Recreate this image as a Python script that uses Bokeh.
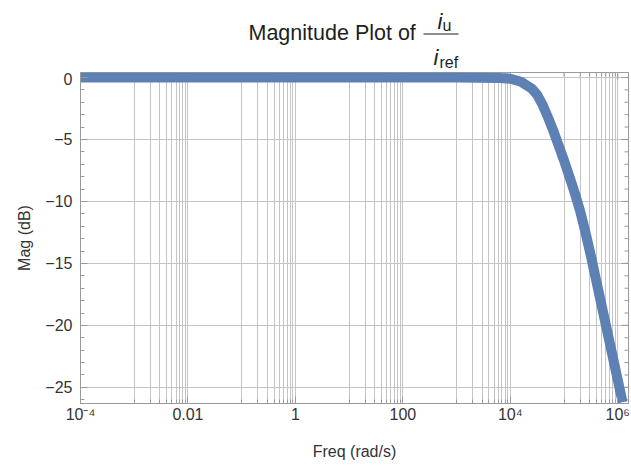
import math

from bokeh.plotting import figure
from bokeh.layouts import column
from bokeh.models import FixedTicker, CustomJSTickFormatter
from bokeh.core.properties import value
from bokeh.embed import file_html
from bokeh.resources import INLINE

# Magnitude response of i_u / i_ref (frequency in rad/s, magnitude in dB)
freq = [1e-4, 1e2, 1e3, 6.3e3, 1e4, 1.58e4, 2.51e4, 3.16e4, 3.98e4, 5.01e4,
        6.31e4, 7.94e4, 1e5, 1.26e5, 1.58e5, 2.0e5, 2.51e5, 3.16e5, 3.98e5,
        5.01e5, 6.31e5, 7.94e5, 1e6, 1.23e6]
mag_db = [0.0, 0.0, 0.0, -0.05, -0.1, -0.35, -0.9, -1.4, -2.2, -3.2,
          -4.3, -5.5, -6.7, -8.0, -9.3, -10.8, -12.5, -14.4, -16.4,
          -18.4, -20.4, -22.4, -24.4, -26.2]

# x ticks: labelled every two decades, grid/minor ticks in the odd decades
x_major = [1e-4, 1e-2, 1.0, 1e2, 1e4, 1e6]
x_major_labels = ["10\u207b\u2074", "0.01", "1", "100", "10\u2074", "10\u2076"]
odd_decades = [1e-3, 1e-1, 1e1, 1e3, 1e5]
minor_mult = [1, 2, 3, 4, 5, 6, 7, 8, 9]

y_major = [-25, -20, -15, -10, -5, 0]
y_minor = list(range(-26, 1))

X_LO, X_HI = 1e-4, 10 ** 6.2
Y_LO, Y_HI = -26.3, 0.4

FONT = "Liberation Sans"
GRID = "#c4c4c4"
FRAME = "#9a9a9a"
TEXT = "#333333"
INK = "#1e1e1e"
BLUE = "#5e81b5"

x_minor = [m * d for d in odd_decades for m in minor_mult]

# plot frame position on the page (left, right)
FRAME_L, FRAME_R = 80, 628

# ---- heading: "Magnitude Plot of  i_u / i_ref" -------------------------
# the column lines this strip's frame up with the plot's frame, so its
# x range is expressed in page pixels over that same span
head = figure(width=631, height=72, x_range=(FRAME_L, FRAME_R),
              y_range=(72, 0), output_backend="svg", toolbar_location=None,
              x_axis_location=None, y_axis_location=None,
              min_border_left=FRAME_L, min_border_right=631 - FRAME_R,
              min_border_top=0, min_border_bottom=0)
head.grid.visible = False
head.outline_line_color = None
head.background_fill_color = "white"
head.border_fill_color = "white"


def head_text(x, y, text, size, style="normal"):
    # y is the wanted baseline; shift by the offset the svg text applies
    px = float(size.rstrip("px"))
    head.text(x=[x], y=[y - 0.37 * px], text=[text], text_font=value(FONT),
              text_font_size=size, text_font_style=style, text_color=INK,
              text_baseline="alphabetic", text_align="left")


head_text(248, 40, "Magnitude Plot of", "21.5px")
head_text(437, 29, "i", "22px", "italic")
head_text(442, 31, "u", "16px")
head.segment(x0=[423], y0=[33.5], x1=[458], y1=[33.5], line_color=INK,
             line_width=1)
head_text(433, 65, "i", "22px", "italic")
head_text(439, 68, "ref", "16px")

# ---- Bode magnitude plot -----------------------------------------------
p = figure(width=631, height=394, x_axis_type="log",
           x_range=(X_LO, X_HI), y_range=(Y_LO, Y_HI),
           output_backend="svg", toolbar_location=None,
           min_border_left=FRAME_L, min_border_right=631 - FRAME_R,
           min_border_top=0, min_border_bottom=63)
p.background_fill_color = "white"
p.border_fill_color = "white"
p.outline_line_color = FRAME

xt = FixedTicker(ticks=x_major, minor_ticks=x_minor)
yt = FixedTicker(ticks=y_major, minor_ticks=y_minor)

label_map = {str(round(math.log10(v))): s
             for v, s in zip(x_major, x_major_labels)}
xfmt = CustomJSTickFormatter(args=dict(labels=label_map), code="""
    const k = String(Math.round(Math.log10(tick)));
    return labels[k] !== undefined ? labels[k] : "";
""")
yfmt = CustomJSTickFormatter(code="""
    return tick < 0 ? "\u2212" + String(-tick) : String(tick);
""")

for ax in (p.xaxis[0], p.yaxis[0]):
    ax.axis_line_color = FRAME
    ax.major_tick_line_color = FRAME
    ax.minor_tick_line_color = FRAME
    ax.major_tick_in = 7
    ax.major_tick_out = 0
    ax.minor_tick_in = 4
    ax.minor_tick_out = 0
    ax.major_label_text_font = FONT
    ax.major_label_text_font_size = "16px"
    ax.major_label_text_color = TEXT
    ax.axis_label_text_font = FONT
    ax.axis_label_text_font_size = "16px"
    ax.axis_label_text_font_style = "normal"
    ax.axis_label_text_color = TEXT

xa = p.xaxis[0]
xa.ticker = xt
xa.formatter = xfmt
xa.axis_label = "Freq (rad/s)"
xa.major_label_standoff = 2
xa.axis_label_standoff = 17

ya = p.yaxis[0]
ya.ticker = yt
ya.formatter = yfmt
ya.axis_label = "Mag (dB)"
ya.major_label_standoff = 8
ya.axis_label_standoff = 9

p.xgrid.ticker = xt
p.xgrid.grid_line_color = GRID
p.xgrid.minor_grid_line_color = GRID
p.ygrid.ticker = yt
p.ygrid.grid_line_color = GRID

# inward ticks along the top and right edges of the frame
p.scatter(x=x_major, y=[Y_HI] * len(x_major), marker="dash", size=14,
          angle=math.pi / 2, line_color=FRAME, line_width=1)
p.scatter(x=x_minor, y=[Y_HI] * len(x_minor), marker="dash", size=8,
          angle=math.pi / 2, line_color=FRAME, line_width=1)
p.scatter(x=[X_HI] * len(y_major), y=y_major, marker="dash", size=14,
          line_color=FRAME, line_width=1)
p.scatter(x=[X_HI] * len(y_minor), y=y_minor, marker="dash", size=8,
          line_color=FRAME, line_width=1)

p.line(freq, mag_db, line_color=BLUE, line_width=10, line_cap="butt",
       line_join="round")

layout = column(head, p, spacing=0)
open("out.html", "w").write(file_html(layout, INLINE))
